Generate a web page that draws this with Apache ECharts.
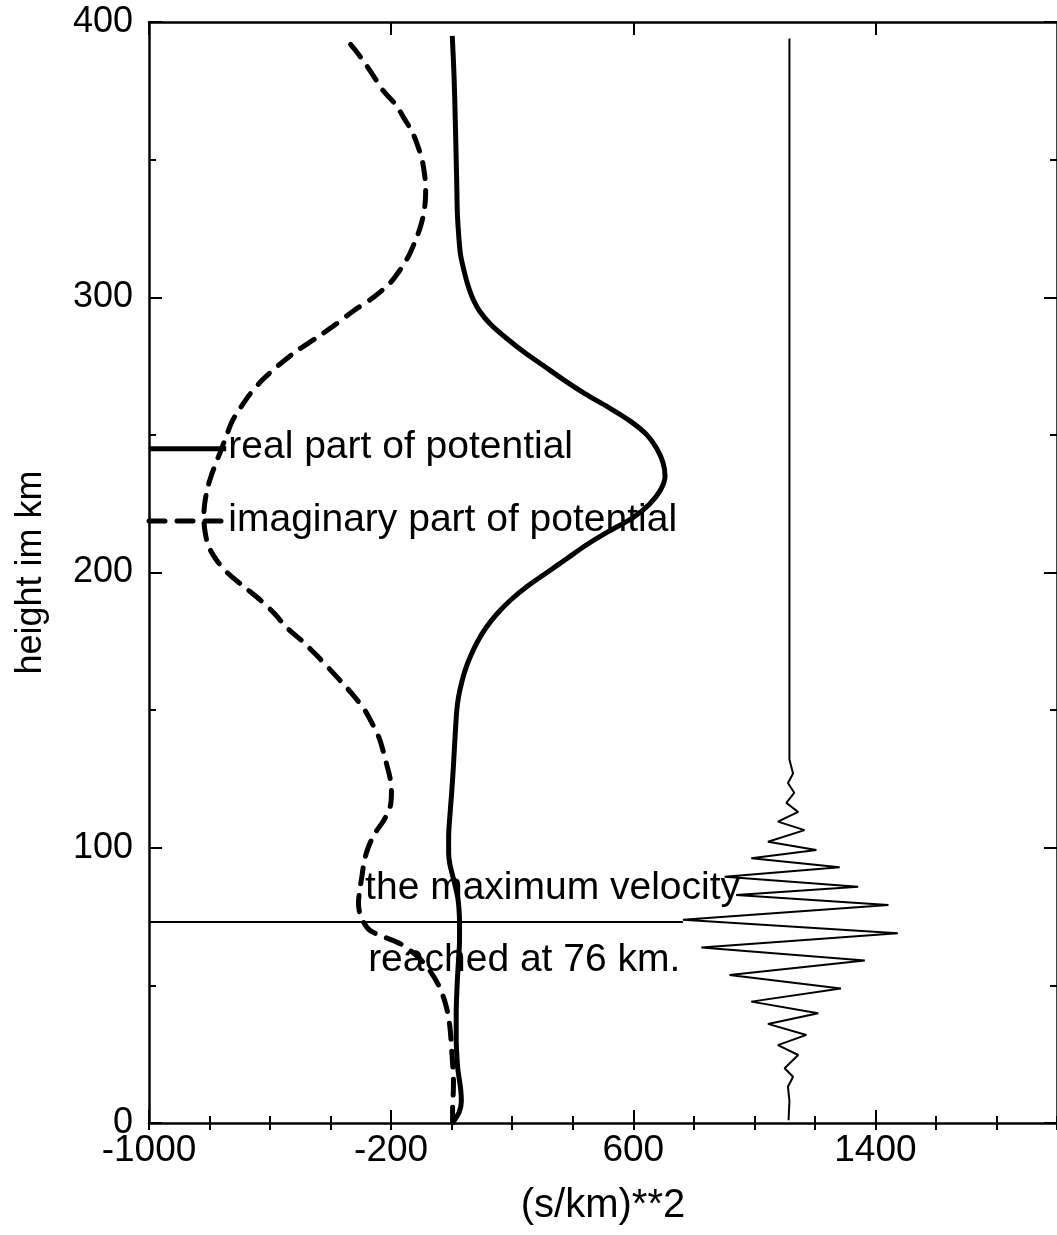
<!DOCTYPE html>
<html><head><meta charset="utf-8">
<script src="https://cdn.jsdelivr.net/npm/echarts@6/dist/echarts.min.js"></script>
<style>html,body{margin:0;padding:0;background:#fff}#c{width:1057px;height:1235px}</style>
</head><body><div id="c"></div>
<script>
// ---- data (x: (s/km)**2, y: height in km) ----
const xRange = [-1000, 2000];
const yRange = [0, 400];
const xMajorTicks = [-1000, -200, 600, 1400];
const xMinorStep = 200;
const yMajorStep = 100;

// [value, height]
const realPart = [
  [2,0],[25,4],[32,8],[30,12],[25,16],[20,20],[17,25],[15,30],[15,40],[18,50],[23,60],[26,66],[26,73],[24,78],[20,82],
  [12,86],[3,90],[-6,94],[-10,98],[-10,104],[-7,110],[0,120],[6,130],[11,140],[17,150],[23,155],[33,160],[46,165],
  [64,170],[86,175],[114,180],[150,185],[195,190],[250,195],[315,200],[380,205],[445,210],[520,215],[600,220],[655,225],
  [690,230],[705,235],[698,240],[678,245],[645,250],[590,255],[518,260],[440,265],[370,270],[305,275],[240,280],
  [182,285],[130,290],[92,295],[68,300],[52,305],[40,310],[30,315],[25,320],[19,330],[17,340],[15,350],[12,364],
  [8,380],[2,395]
];
const imagPart = [
  [3,0],[3,5],[5,10],[6,15],[4,20],[1,25],[-2,30],[-6,35],[-13,40],[-25,45],[-43,50],[-70,55],[-108,60],[-168,65],
  [-270,70],[-300,75],[-308,80],[-303,85],[-296,90],[-289,95],[-276,100],[-255,105],[-224,110],[-203,115],[-199,120],
  [-203,125],[-214,130],[-226,135],[-240,140],[-262,145],[-287,150],[-322,155],[-362,160],[-404,165],[-447,170],
  [-493,175],[-545,180],[-585,185],[-632,190],[-688,195],[-742,200],[-780,205],[-805,210],[-815,215],[-819,220],
  [-816,225],[-808,230],[-795,235],[-778,240],[-760,245],[-743,250],[-725,255],[-697,260],[-665,265],[-625,270],
  [-575,275],[-518,280],[-450,285],[-385,290],[-325,295],[-258,300],[-205,305],[-170,310],[-142,315],[-122,320],
  [-105,325],[-93,330],[-87,335],[-86,340],[-90,345],[-98,350],[-112,355],[-130,360],[-157,365],[-185,370],
  [-226,375],[-256,380],[-286,385],[-320,390],[-358,395]
];
const velocityWave = [
  [1116,394],[1116,132],[1128,127],[1111,123.5],[1132,120],[1106,116.3],[1145,113],[1078,109.5],[1166,106.4],[1045,102.2],
  [1205,99.2],[990,96.2],[1282,92.9],[902,89.5],[1343,85.8],[940,82.8],[1443,79.2],[764,73.8],[1474,68.9],[825,63.8],
  [1365,59],[918,53.8],[1286,48.9],[990,44.1],[1211,39.9],[1045,36],[1172,32],[1078,28.3],[1145,24.7],[1100,19.9],
  [1128,16.8],[1111,13.2],[1116,8],[1113,1]
];
const maxVelocityLine = [[-1000,73],[764,73]];
const legendRealSample = [[-1000,245],[-745,245]];
const legendImagSample = [[-1000,218.7],[-755,218.7]];
const annotations = [
  {text: 'real part of potential', at: [-738, 245.5]},
  {text: 'imaginary part of potential', at: [-738, 219]},
  {text: 'the maximum velocity', at: [-286, 85.4]},
  {text: 'reached at 76 km.', at: [-276, 59.2]}
];
const xAxisName = '(s/km)**2';
const yAxisName = 'height im km';

const FONT = '"Liberation Sans", Arial, Helvetica, sans-serif';
const BLACK = '#000';

const chart = echarts.init(document.getElementById('c'), null, {renderer: 'canvas'});

const axisLine = {show: true, onZero: false, lineStyle: {color: BLACK, width: 2.5}};
const majorTick = {show: true, inside: true, length: 13, lineStyle: {color: BLACK, width: 2}};
const minorTickX = {show: true, inside: true, length: 7, lineStyle: {color: BLACK, width: 2}};
const plain = v => String(v);

function xAx(pos, major) {
  const a = {
    type: 'value', gridIndex: 0, position: pos, min: xRange[0], max: xRange[1],
    splitLine: {show: false},
    axisLine: major ? axisLine : {show: false},
  };
  if (major) {
    a.axisTick = Object.assign({customValues: xMajorTicks}, majorTick);
    a.axisLabel = pos === 'bottom'
      ? {show: true, customValues: xMajorTicks, formatter: plain, color: BLACK, fontSize: 37, fontFamily: FONT, margin: 9}
      : {show: false};
  } else {
    a.interval = xMinorStep;
    a.axisTick = minorTickX;
    a.axisLabel = {show: false};
  }
  if (major && pos === 'bottom') {
    a.name = xAxisName; a.nameLocation = 'middle'; a.nameGap = 63;
    a.nameTextStyle = {color: BLACK, fontSize: 40, fontFamily: FONT};
  }
  return a;
}
function yAx(pos) {
  const a = {
    type: 'value', gridIndex: 0, position: pos, min: yRange[0], max: yRange[1], interval: yMajorStep,
    splitLine: {show: false}, minorSplitLine: {show: false},
    axisLine: axisLine,
    axisTick: majorTick,
    minorTick: {show: true, splitNumber: 2, length: 7, lineStyle: {color: BLACK, width: 2}},
    axisLabel: pos === 'left'
      ? {show: true, formatter: plain, color: BLACK, fontSize: 36, fontFamily: FONT, margin: 16}
      : {show: false}
  };
  if (pos === 'left') {
    a.name = yAxisName; a.nameLocation = 'middle'; a.nameGap = 100;
    a.nameTextStyle = {color: BLACK, fontSize: 36, fontFamily: FONT};
  }
  return a;
}

chart.setOption({
  animation: false,
  backgroundColor: '#fff',
  grid: {left: 149, right: 0, top: 22, bottom: 112, containLabel: false},
  xAxis: [xAx('bottom', true), xAx('bottom', false), xAx('top', true), xAx('top', false)],
  yAxis: [yAx('left'), yAx('right')],
  series: [
    {type: 'line', name: 'real', data: realPart, smooth: 0.3, showSymbol: false,
     lineStyle: {color: BLACK, width: 5}},
    {type: 'line', name: 'imag', data: imagPart, smooth: 0.3, showSymbol: false,
     lineStyle: {color: BLACK, width: 5, type: [16, 12], cap: 'round'}},
    {type: 'line', name: 'wave', data: velocityWave, smooth: false, showSymbol: false,
     lineStyle: {color: BLACK, width: 2}},
    {type: 'line', name: 'maxline', data: maxVelocityLine, showSymbol: false,
     lineStyle: {color: BLACK, width: 2}},
    {type: 'line', name: 'legReal', data: legendRealSample, showSymbol: false,
     lineStyle: {color: BLACK, width: 5}},
    {type: 'line', name: 'legImag', data: legendImagSample, showSymbol: false,
     lineStyle: {color: BLACK, width: 5, type: [16, 12], cap: 'round'}}
  ]
});

const g = annotations.map(a => {
  const p = chart.convertToPixel({xAxisIndex: 0, yAxisIndex: 0}, a.at);
  return {type: 'text', x: p[0], y: p[1], z: 100,
    style: {text: a.text, fill: BLACK, font: '39px ' + FONT, align: 'left', verticalAlign: 'middle',
            textAlign: 'left', textVerticalAlign: 'middle'}};
});
chart.setOption({graphic: g});
</script></body></html>
